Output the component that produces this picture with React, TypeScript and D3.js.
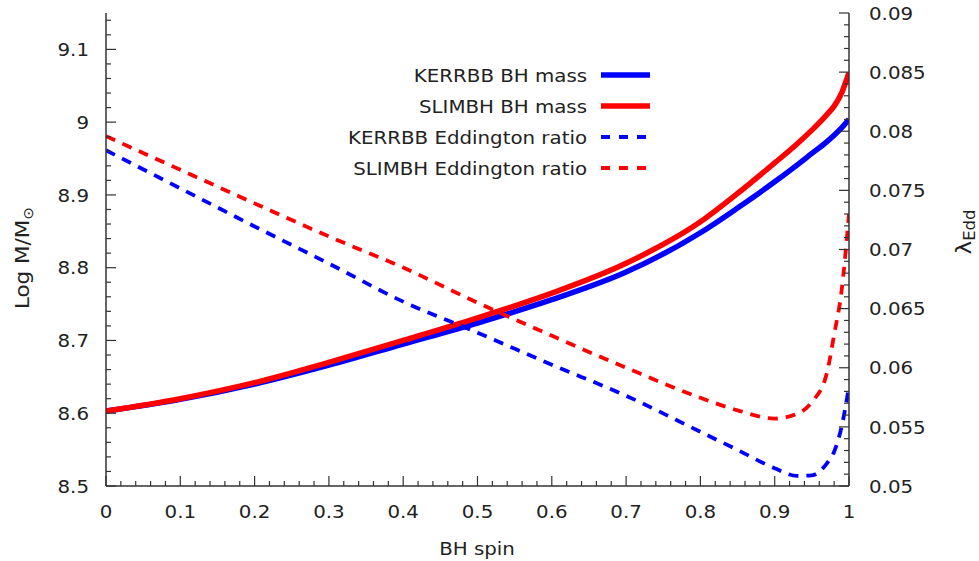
import React from "react";
import * as d3 from "d3";

// BH spin grid and the four model curves
const spin = [0, 0.1, 0.2, 0.3, 0.4, 0.5, 0.6, 0.7, 0.8, 0.85, 0.9, 0.93, 0.95, 0.97, 0.98, 0.99, 1.0];
const kerrbbMass = [8.603, 8.619, 8.64, 8.666, 8.695, 8.724, 8.756, 8.794, 8.848, 8.882, 8.918, 8.941, 8.957, 8.973, 8.982, 8.992, 9.004];
const slimbhMass = [8.603, 8.62, 8.642, 8.67, 8.7, 8.731, 8.765, 8.806, 8.863, 8.902, 8.944, 8.97, 8.989, 9.01, 9.022, 9.04, 9.068];
const kerrbbEdd = [0.07839, 0.07517, 0.07195, 0.06881, 0.06559, 0.06297, 0.06025, 0.05763, 0.05458, 0.05305, 0.0515, 0.05085, 0.0509, 0.0519, 0.0529, 0.055, 0.0584];
const slimbhEdd = [0.07958, 0.07674, 0.0739, 0.0711, 0.06847, 0.0655, 0.06271, 0.06, 0.05746, 0.0564, 0.0557, 0.0561, 0.0571, 0.0595, 0.0628, 0.0665, 0.073];

const xTicks = [0, 0.1, 0.2, 0.3, 0.4, 0.5, 0.6, 0.7, 0.8, 0.9, 1];
const yLeftTicks = [8.5, 8.6, 8.7, 8.8, 8.9, 9, 9.1];
const yRightTicks = [0.05, 0.055, 0.06, 0.065, 0.07, 0.075, 0.08, 0.085, 0.09];
const legendLabels = ["KERRBB BH mass", "SLIMBH BH mass", "KERRBB Eddington ratio", "SLIMBH Eddington ratio"];

const W = 979;
const H = 561;
const left = 106;
const right = 849;
const top = 13;
const bottom = 486;

const BLUE = "#0000ff";
const RED = "#ff0000";
const AXIS = "#333333";
const TEXT = "#222222";
const FONT = "DejaVu Sans, sans-serif";
const FS = 18;
const SX = 1.1; // glyphs here run slightly wide

const x = d3.scaleLinear().domain([0, 1]).range([left, right]);
const yL = d3.scaleLinear().domain([8.5, 9.15]).range([bottom, top]);
const yR = d3.scaleLinear().domain([0.05, 0.09]).range([bottom, top]);

const lineFor = (vals: number[], y: d3.ScaleLinear<number, number>) =>
  d3
    .line<number>()
    .x((_, i) => x(spin[i]))
    .y((v) => y(v))
    .curve(d3.curveMonotoneX)(vals) || "";

function T(props: {
  x: number;
  y: number;
  anchor?: string;
  rotate?: number;
  children: React.ReactNode;
  size?: number;
}) {
  const { x: tx, y: ty, anchor = "start", rotate = 0, children, size = FS } = props;
  return (
    <text
      transform={`translate(${tx},${ty}) rotate(${rotate}) scale(${SX},1)`}
      textAnchor={anchor}
      dominantBaseline="central"
      fontFamily={FONT}
      fontSize={size}
      fill={TEXT}
    >
      {children}
    </text>
  );
}

export default function App() {
  const minorX = d3.range(0, 1.0001, 0.02);
  const minorL = d3.range(8.5, 9.1501, 0.02);
  const minorR = d3.range(0.05, 0.09001, 0.001);

  const series = [
    { vals: kerrbbMass, y: yL, color: BLUE, dash: undefined, w: 5.5 },
    { vals: slimbhMass, y: yL, color: RED, dash: undefined, w: 5.5 },
    { vals: kerrbbEdd, y: yR, color: BLUE, dash: "10 8", w: 3.8 },
    { vals: slimbhEdd, y: yR, color: RED, dash: "10 8", w: 3.8 },
  ];

  const legendY = [75, 106, 137, 168];

  return (
    <svg width={W} height={H} style={{ display: "block", position: "absolute", left: 0, top: 0, background: "#fff" }}>
      <rect width={W} height={H} fill="#fff" />
      <defs>
        <clipPath id="plotArea">
          <rect x={left} y={top - 2} width={right - left} height={bottom - top + 2} />
        </clipPath>
      </defs>

      {/* curves */}
      <g clipPath="url(#plotArea)">
        {series.map((s, i) => (
          <path
            key={i}
            d={lineFor(s.vals, s.y)}
            fill="none"
            stroke={s.color}
            strokeWidth={s.w}
            strokeDasharray={s.dash}
          />
        ))}
      </g>

      {/* axis frame */}
      <g stroke={AXIS} strokeWidth={1.5} fill="none">
        <line x1={left} y1={top} x2={left} y2={bottom} />
        <line x1={right} y1={top} x2={right} y2={bottom} />
        <line x1={left} y1={bottom} x2={right} y2={bottom} />
      </g>

      {/* ticks */}
      <g stroke={AXIS} strokeWidth={1.2}>
        {minorX.map((v, i) => {
          const major = i % 5 === 0;
          return <line key={"x" + i} x1={x(v)} x2={x(v)} y1={bottom} y2={bottom - (major ? 10 : 5)} />;
        })}
        {minorL.map((v, i) => {
          const major = i % 5 === 0;
          return <line key={"l" + i} x1={left} x2={left + (major ? 10 : 5)} y1={yL(v)} y2={yL(v)} />;
        })}
        {minorR.map((v, i) => {
          const major = i % 5 === 0;
          return <line key={"r" + i} x1={right} x2={right - (major ? 10 : 5)} y1={yR(v)} y2={yR(v)} />;
        })}
      </g>

      {/* tick labels */}
      {xTicks.map((v) => (
        <T key={"xt" + v} x={x(v)} y={511} anchor="middle">
          {d3.format("")(v)}
        </T>
      ))}
      {yLeftTicks.map((v) => (
        <T key={"lt" + v} x={89} y={yL(v)} anchor="end">
          {d3.format("")(v)}
        </T>
      ))}
      {yRightTicks.map((v) => (
        <T key={"rt" + v} x={869} y={yR(v)} anchor="start">
          {d3.format("")(v)}
        </T>
      ))}

      {/* axis titles */}
      <T x={477} y={548} anchor="middle" size={18}>
        BH spin
      </T>
      <T x={22} y={258} anchor="middle" rotate={-90} size={19.5}>
        Log M/M
        <tspan fontSize={14} dy={5}>⊙</tspan>
      </T>
      <T x={964} y={232} anchor="middle" rotate={-90} size={21}>
        λ
        <tspan fontSize={15} dy={5}>Edd</tspan>
      </T>

      {/* legend */}
      {legendLabels.map((lab, i) => (
        <g key={"lg" + i}>
          <T x={587} y={legendY[i]} anchor="end">
            {lab}
          </T>
          <line
            x1={601}
            x2={650}
            y1={legendY[i]}
            y2={legendY[i]}
            stroke={series[i].color}
            strokeWidth={series[i].w}
            strokeDasharray={series[i].dash ? "9 9" : undefined}
          />
        </g>
      ))}
    </svg>
  );
}
